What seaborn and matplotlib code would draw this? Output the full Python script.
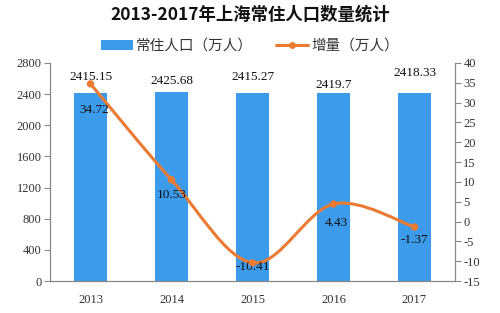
import numpy as np
import pandas as pd
import seaborn as sns
import matplotlib
matplotlib.use("Agg")
import matplotlib.pyplot as plt
from matplotlib.path import Path
from matplotlib.patches import PathPatch, Patch
from matplotlib.lines import Line2D

years = ["2013", "2014", "2015", "2016", "2017"]
population = [2415.15, 2425.68, 2415.27, 2419.7, 2418.33]
increase = [34.72, 10.53, -10.41, 4.43, -1.37]
pop_labels = ["2415.15", "2425.68", "2415.27", "2419.7", "2418.33"]
inc_labels = ["34.72", "10.53", "-10.41", "4.43", "-1.37"]
left_ticks = [0, 400, 800, 1200, 1600, 2000, 2400, 2800]
right_ticks = [-15, -10, -5, 0, 5, 10, 15, 20, 25, 30, 35, 40]

sns.set_style("white")
plt.rcParams['font.family'] = ['Noto Sans CJK SC', 'DejaVu Sans']

BLUE = "#3D9BEB"
ORANGE = "#EB7A33"
GRAY = "#888888"
NUMFONT = ['Liberation Serif', 'DejaVu Serif']

fig = plt.figure(figsize=(5.0, 3.13), dpi=100)
ax = fig.add_axes([0.10, 0.102, 0.81, 0.697])

df = pd.DataFrame({"year": years, "pop": population})
sns.barplot(data=df, x="year", y="pop", color=BLUE, width=0.41, ax=ax,
            saturation=1.0, edgecolor="none")
ax.set_ylim(0, 2800)
ax.set_xlim(-0.5, 4.5)
ax.set_yticks(left_ticks)
ax.set_yticklabels([str(t) for t in left_ticks], family=NUMFONT, fontsize=9, color="#333333")
ax.set_xticks(range(len(years)))
ax.set_xticklabels(years, family=NUMFONT, fontsize=9, color="#333333")
ax.set_xticks([i - 0.5 for i in range(len(years) + 1)], minor=True)
ax.tick_params(axis='x', which='major', length=0, pad=9)
ax.tick_params(axis='x', which='minor', length=4, color=GRAY, direction='out')
ax.tick_params(axis='y', length=4, color=GRAY, direction='out', pad=2)
ax.set_xlabel("")
ax.set_ylabel("")
for s in ["top", "right"]:
    ax.spines[s].set_visible(False)
for s in ["left", "bottom"]:
    ax.spines[s].set_color(GRAY)
    ax.spines[s].set_linewidth(0.9)

bar_offsets = [16, 11, 16, 8, 20]
for i, (v, lab) in enumerate(zip(population, pop_labels)):
    ax.annotate(lab, (i, v), xytext=(0, bar_offsets[i]), textcoords='offset pixels',
                ha='center', va='center', family=NUMFONT, fontsize=9.5, color="#111111")

ax2 = ax.twinx()
ax2.set_ylim(-15, 40)
ax2.set_yticks(right_ticks)
ax2.set_yticklabels([str(t) for t in right_ticks], family=NUMFONT, fontsize=9, color="#333333")
ax2.tick_params(axis='y', length=4, color=GRAY, direction='out', pad=2)
for s in ["top", "left", "bottom"]:
    ax2.spines[s].set_visible(False)
ax2.spines["right"].set_color(GRAY)
ax2.spines["right"].set_linewidth(0.9)

# smooth curve through the data points (cubic Bezier, Catmull-Rom style)
xs = np.arange(len(increase), dtype=float)
ys = np.array(increase, dtype=float)
verts = [(xs[0], ys[0])]
codes = [Path.MOVETO]
n = len(xs)
for i in range(n - 1):
    x0, y0 = (xs[i - 1], ys[i - 1]) if i > 0 else (xs[i], ys[i])
    x3, y3 = (xs[i + 2], ys[i + 2]) if i + 2 < n else (xs[i + 1], ys[i + 1])
    c1 = (xs[i] + (xs[i + 1] - x0) / 6, ys[i] + (ys[i + 1] - y0) / 6)
    c2 = (xs[i + 1] - (x3 - xs[i]) / 6, ys[i + 1] - (y3 - ys[i]) / 6)
    verts += [c1, c2, (xs[i + 1], ys[i + 1])]
    codes += [Path.CURVE4] * 3
ax2.add_patch(PathPatch(Path(verts, codes), facecolor='none', edgecolor=ORANGE, lw=2.2))
sns.scatterplot(x=xs, y=ys, color=ORANGE, s=28, ax=ax2, edgecolor='none', zorder=5)
ax2.set_xlim(-0.5, 4.5)

inc_offsets = [(4, -26), (0, -15), (0, -4), (3, -19), (0, -13)]
for i, (v, lab) in enumerate(zip(increase, inc_labels)):
    ax2.annotate(lab, (i, v), xytext=inc_offsets[i], textcoords='offset pixels',
                 ha='center', va='center', family=NUMFONT, fontsize=9.5, color="#111111")

fig.text(0.5, 0.952, "2013-2017年上海常住人口数量统计", ha='center', va='center',
         fontsize=12.5, fontweight='bold', color="#111111")

handles = [Patch(facecolor=BLUE, edgecolor='none'),
           Line2D([0], [0], color=ORANGE, lw=2.2, marker='o', markersize=4)]
fig.legend(handles, ["常住人口（万人）", "增量（万人）"], loc='center',
           bbox_to_anchor=(0.5, 0.853), ncol=2, frameon=False, fontsize=10.5,
           labelcolor="#333333",
           handlelength=2.2, handleheight=0.6, columnspacing=1.6, handletextpad=0.2)

fig.savefig("out.png", dpi=100)
